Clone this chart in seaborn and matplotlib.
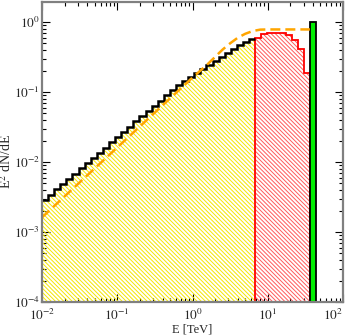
import numpy as np
import matplotlib
matplotlib.use("Agg")
import matplotlib.pyplot as plt
import seaborn as sns
import pandas as pd
from matplotlib.ticker import LogLocator, NullFormatter

# ---------------- data ----------------
# black (yellow-hatched) spectrum: 35 log bins from 0.01 TeV to ~7 TeV
black_vals = [2.89e-3, 3.44e-3, 4.08e-3, 4.85e-3, 5.76e-3, 6.84e-3, 8.13e-3,
              9.65e-3, 1.147e-2, 1.362e-2, 1.618e-2, 1.921e-2, 2.282e-2,
              2.71e-2, 3.22e-2, 3.83e-2, 4.54e-2, 5.40e-2, 6.41e-2, 7.61e-2,
              9.04e-2, 0.1074, 0.1262, 0.1450, 0.1663, 0.1904, 0.2175,
              0.2480, 0.2823, 0.3208, 0.3639, 0.412, 0.4656, 0.5253, 0.58]
# red hatched spectrum: 9 log bins from ~7 TeV to ~36 TeV
red_vals = [0.59, 0.67, 0.71, 0.71, 0.71, 0.66, 0.56, 0.41, 0.19]
# green bar
green_val = [1.0]
# orange dashed curve
orange_E = [0.01, 0.0316, 0.1, 0.316, 1.0, 1.585, 2.512, 3.162, 3.981,
            5.012, 6.31, 7.943, 10.0, 36.3]
orange_v = [1.62e-3, 5.13e-3, 1.62e-2, 5.13e-2, 0.162, 0.251, 0.407, 0.50,
            0.60, 0.684, 0.75, 0.785, 0.79, 0.79]

x_ticks = [1e-2, 1e-1, 1e0, 1e1, 1e2]
x_ticklabels = [r"$10^{-2}$", r"$10^{-1}$", r"$10^{0}$", r"$10^{1}$", r"$10^{2}$"]
y_ticks = [1e-4, 1e-3, 1e-2, 1e-1, 1e0]
y_ticklabels = [r"$10^{-4}$", r"$10^{-3}$", r"$10^{-2}$", r"$10^{-1}$", r"$10^{0}$"]

# bin grid (log spaced, ~0.081 dex per bin)
all_edges = np.logspace(-2, 1.642, 46)
edges_black = all_edges[:36]
edges_red = all_edges[35:45]
edges_green = all_edges[44:46]

# ---------------- style ----------------
sns.set_style("ticks")
plt.rcParams["font.family"] = ["Liberation Serif", "DejaVu Serif"]
plt.rcParams["mathtext.fontset"] = "stix"
plt.rcParams["hatch.linewidth"] = 0.7
plt.rcParams["font.size"] = 9.5

fig = plt.figure(figsize=(3.46, 3.36), dpi=100)
ax = fig.add_axes([42/346, 1 - 302/336, 301/346, 300/336])
ax.set_xscale("log")
ax.set_yscale("log")
ax.set_xlim(1e-2, 1e2)
ax.set_ylim(1e-4, 1.95)

base = 1e-4
hatch = "\\" * 8
# yellow hatched area
ax.stairs(black_vals, edges_black, baseline=base, fill=True,
          facecolor="none", edgecolor="#f5e600", hatch=hatch, linewidth=0)
# red hatched area
ax.stairs(red_vals, edges_red, baseline=base, fill=True,
          facecolor="none", edgecolor="#ff5a5a", hatch=hatch, linewidth=0)
ax.stairs(red_vals, edges_red, baseline=base, fill=False,
          color="#ff0000", linewidth=1.3)
# black step line
ax.stairs(black_vals, edges_black, baseline=None, fill=False,
          color="black", linewidth=1.8)
# green bar
ax.stairs(green_val, edges_green, baseline=base, fill=True,
          facecolor="#00ee00", edgecolor="black", linewidth=1.3)

# orange dashed curve
df = pd.DataFrame({"E": orange_E, "v": orange_v})
sns.lineplot(data=df, x="E", y="v", ax=ax, color="#ffa500", linewidth=1.8,
             linestyle=(0, (4, 2)), sort=False)

ax.set_xticks(x_ticks)
ax.set_xticklabels(x_ticklabels)
ax.set_yticks(y_ticks)
ax.set_yticklabels(y_ticklabels)
ax.xaxis.set_minor_locator(LogLocator(base=10, subs=np.arange(2, 10), numticks=20))
ax.yaxis.set_minor_locator(LogLocator(base=10, subs=np.arange(2, 10), numticks=20))
ax.xaxis.set_minor_formatter(NullFormatter())
ax.yaxis.set_minor_formatter(NullFormatter())
ax.tick_params(which="both", direction="in", top=True, right=True,
               color="black", width=0.8, labelsize=9.5)
ax.tick_params(which="major", length=6)
ax.tick_params(which="minor", length=3)
ax.tick_params(axis="x", pad=4.5)
ax.tick_params(axis="y", pad=1.5)
ax.get_xticklabels()[-1].set_horizontalalignment("right")
for s in ax.spines.values():
    s.set_color("#808080")
    s.set_linewidth(1.6)

ax.set_xlabel("E [TeV]", fontsize=9)
ax.set_ylabel(r"E$^2$ dN/dE", fontsize=10)
ax.xaxis.set_label_coords(0.5, -0.071)
ax.yaxis.set_label_coords(-0.092, 0.47)

fig.savefig("out.png", dpi=100)
